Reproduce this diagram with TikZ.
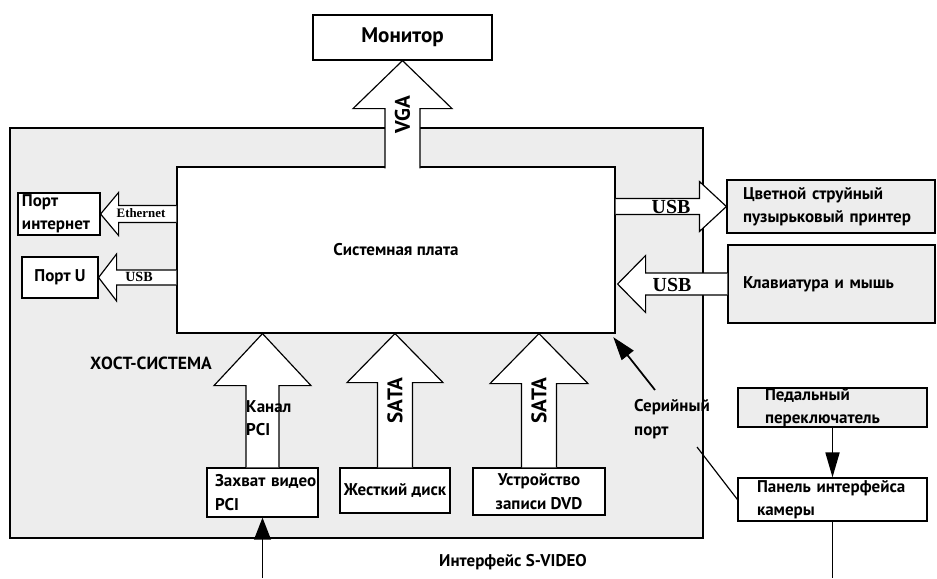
\documentclass[tikz,border=0pt]{standalone}
\usepackage{fontspec}
\setmainfont{PT Sans}
\newfontfamily\tagserif{Liberation Serif}
\usetikzlibrary{arrows.meta, calc, positioning}

\definecolor{hostgray}{gray}{0.93}

% wide open-tail arrow: tail, tip, shaft half width, head half width, head length (px)
\newcommand{\bigarrow}[5]{%
  \path ($(#2)!#5*0.03cm!(#1)$) coordinate (ba-h);
  \filldraw[blockarrow]
    ($(#1)!#3*0.03cm!90:(#2)$) -- ($(ba-h)!#3*0.03cm!90:(#2)$) -- ($(ba-h)!#4*0.03cm!90:(#2)$)
    -- (#2) -- ($(ba-h)!#4*0.03cm!-90:(#2)$) -- ($(ba-h)!#3*0.03cm!-90:(#2)$)
    -- ($(#1)!#3*0.03cm!-90:(#2)$);
}

\begin{document}
\begin{tikzpicture}[
    x=0.03cm, y=-0.03cm,
    lbl/.style={font=\bfseries\fontsize{14.5}{20}\selectfont, inner sep=0pt},
    box/.style={lbl, draw, line width=1pt, fill=white},
    graybox/.style={box, fill=hostgray},
    blockarrow/.style={draw, line width=1pt, fill=white, line join=miter},
    bus/.style={font=\bfseries\fontsize{18}{20}\selectfont, rotate=90, inner sep=0pt},
    tag/.style={font=\tagserif\bfseries\fontsize{#1}{#1}\selectfont, inner sep=0pt},
    wire/.style={line width=1.5pt},
    >=Triangle
]
\useasboundingbox (0,0) rectangle (937,578);

% Host system area
\node[draw, line width=1pt, fill=hostgray, minimum width=20.79cm, minimum height=12.3cm] (host) at (356.5,333) {};
\node[lbl, font=\bfseries\fontsize{15}{18}\selectfont] (hostlbl) at (151,363) {ХОСТ-СИСТЕМА};

% Main board and monitor
\node[box, minimum width=13.14cm, minimum height=4.98cm] (board) at (396,250) {Системная плата};
\node[box, minimum width=5.37cm, minimum height=1.35cm, font=\bfseries\fontsize{18}{20}\selectfont] (monitor) at (402.5,37.5) {Монитор};

% Ports on the left
\node[box, minimum width=2.46cm, minimum height=1.26cm, text width=2.22cm, align=left] (inet) at (59,214) {Порт\\интернет};
\node[box, minimum width=2.28cm, minimum height=1.23cm] (usbport) at (60,277.5) {Порт U};

% Peripherals on the right
\node[graybox, minimum width=6.24cm, minimum height=1.59cm, text width=5.28cm, align=left] (printer) at (831,206.5) {Цветной~струйный\\пузырьковый~принтер};
\node[graybox, minimum width=6.21cm, minimum height=2.34cm, text width=5.31cm, align=left] (keyboard) at (831.5,284) {Клавиатура~и~мышь};
\node[graybox, minimum width=5.67cm, minimum height=1.17cm, text width=4.05cm, align=left] (pedal) at (832.5,407.5) {Педальный\\переключатель};
\node[box, minimum width=5.67cm, minimum height=1.29cm, text width=4.53cm, align=left] (camera) at (832.5,499.5) {Панель~интерфейса\\камеры};

% Devices at the bottom
\node[box, minimum width=3.33cm, minimum height=1.47cm, text width=2.85cm, align=left] (capture) at (262.5,492.5) {Захват~видео\\PCI};
\node[box, minimum width=3.3cm, minimum height=1.35cm] (hdd) at (395,490.5) {Жесткий диск};
\node[box, minimum width=3.96cm, minimum height=1.41cm, align=center] (dvd) at (539,491.5) {Устройство\\записи DVD};

% Tails and tips of the wide arrows
\coordinate (vga-tail) at ($(monitor.south |- board.north)+(0,2)$);
\coordinate (eth-tail) at (board.west |- inet.east);
\coordinate (usbu-tail) at (board.west |- usbport.east);
\coordinate (prn-tail) at (board.east |- printer.west);
\coordinate (kbd-tip) at ($(board.east |- keyboard.west)+(2,0)$);
\coordinate (pci-tip) at (capture.north |- board.south);
\coordinate (hdd-tip) at (hdd.north |- board.south);
\coordinate (dvd-tip) at (dvd.north |- board.south);

% Wide arrows
\bigarrow{vga-tail}{monitor.south}{17.5}{49.5}{48}
\bigarrow{eth-tail}{inet.east}{8.5}{21.5}{18}
\bigarrow{usbu-tail}{usbport.east}{7.5}{23.5}{18}
\bigarrow{prn-tail}{printer.west}{8}{25}{27}
\bigarrow{keyboard.west}{kbd-tip}{11}{28.5}{28}
\bigarrow{capture.north}{pci-tip}{16.5}{48.5}{52}
\bigarrow{hdd.north}{hdd-tip}{17.5}{48}{49}
\bigarrow{dvd.north}{dvd-tip}{17.5}{49}{50}

% Arrow labels
\node[bus] (vgalbl) at ($(vga-tail)!0.5!(monitor.south)$) {VGA};
\node[bus] (hddlbl) at ($(hdd.north)!0.5!(hdd-tip)$) {SATA};
\node[bus] (dvdlbl) at ($(dvd.north)!0.5!(dvd-tip)$) {SATA};
\node[lbl, anchor=west, align=left] (pcilbl) at (246,418) {Канал\\PCI};
\node[tag=11] (ethlbl) at (141,213) {Ethernet};
\node[tag=12] (usbulbl) at (139,277) {USB};
\node[tag=17] (prnlbl) at (671,207) {USB};
\node[tag=17] (kbdlbl) at (672,285) {USB};

% Serial port
\node[lbl, anchor=west, align=left] (serial) at (634,419) {Серийный\\порт};
\coordinate (serial-out) at (655,390);
\coordinate (serial-in) at (697,447);
\draw[wire, -{Triangle[length=0.7cm, width=0.45cm]}] (serial-out) -- ([xshift=-2pt, yshift=-3pt]board.south east);
\draw[line width=1pt] (serial-in) -- (camera.west);

% Pedal and S-VIDEO lines
\draw[wire, -{Triangle[length=0.75cm, width=0.42cm]}] (pedal.south) -- (camera.north);
\coordinate (svid-in) at (262.5,578);
\coordinate (svid-out) at (832.5,578);
\draw[wire, -{Triangle[length=0.66cm, width=0.5cm]}] (svid-in) -- (capture.south);
\draw[wire] (camera.south) -- (svid-out);
\node[lbl] (svideo) at (513,562) {Интерфейс S-VIDEO};

\end{tikzpicture}
\end{document}
